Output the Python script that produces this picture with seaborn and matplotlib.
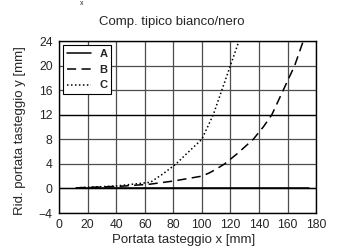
import numpy as np
import pandas as pd
import matplotlib
matplotlib.use('Agg')
import matplotlib.pyplot as plt
import seaborn as sns

# dati
x_a = [12, 40, 80, 120, 175]
y_a = [0.0, 0.0, 0.0, 0.0, 0.0]

x_b = [12, 43, 64, 80, 100, 105, 109, 116, 125, 136, 143, 149, 157, 165, 171]
y_b = [0.1, 0.35, 0.7, 1.2, 2.0, 2.5, 3.0, 4.0, 5.7, 8.0, 10.0, 12.0, 16.0, 20.0, 24.0]

x_c = [12, 40, 64, 73, 82, 90, 100, 108, 114, 120, 126]
y_c = [0.1, 0.4, 1.0, 2.4, 4.0, 5.8, 8.0, 12.0, 16.0, 20.0, 24.0]

df = pd.concat([
    pd.DataFrame({'x': x_a, 'y': y_a, 'curva': 'A'}),
    pd.DataFrame({'x': x_b, 'y': y_b, 'curva': 'B'}),
    pd.DataFrame({'x': x_c, 'y': y_c, 'curva': 'C'}),
])

sns.set_style('white')
plt.rcParams['font.family'] = ['Liberation Sans', 'DejaVu Sans']

fig = plt.figure(figsize=(3.41, 2.5), dpi=100)
ax = fig.add_axes([0.173, 0.148, 0.754, 0.688])

styles = {'A': '-', 'B': (0, (6, 3.5)), 'C': (0, (1, 1.6))}
for name, sub in df.groupby('curva'):
    sns.lineplot(data=sub, x='x', y='y', ax=ax, color='black', lw=1.1,
                 linestyle=styles[name], label=name, sort=False)

ax.set_xlim(0, 180)
ax.set_ylim(-4, 24)
ax.set_xticks(range(0, 181, 20))
ax.set_yticks(range(-4, 25, 4))
ax.grid(True, color='0.3', lw=0.9)
ax.axhline(0, color='black', lw=1.0, zorder=1)
ax.axhline(12, color='black', lw=0.9, zorder=1)
for s in ax.spines.values():
    s.set_color('black')
    s.set_linewidth(1.0)
ax.tick_params(axis='both', labelsize=8.7, length=2.5, width=0.8, color='black', pad=2)

ax.set_title('Comp. tipico bianco/nero', fontsize=9.5, x=0.44, y=1.093, pad=0)
ax.set_xlabel('Portata tasteggio x [mm]', fontsize=9.5)
ax.set_ylabel('Rid. portata tasteggio y [mm]', fontsize=9.5)
ax.xaxis.set_label_coords(0.486, -0.122)
ax.yaxis.set_label_coords(-0.128, 0.48)

fig.text(0.24, 1.0, 'x', fontsize=5, ha='center', va='top')

leg = ax.legend(loc='upper left', frameon=True, fancybox=False, handlelength=2.1,
                borderpad=0.35, labelspacing=0.5, handletextpad=0.8,
                borderaxespad=0.4, prop={'size': 8, 'weight': 'bold'})
leg.get_frame().set_edgecolor('black')
leg.get_frame().set_linewidth(0.8)
leg.get_frame().set_alpha(1)

fig.savefig('out.png', dpi=100)
